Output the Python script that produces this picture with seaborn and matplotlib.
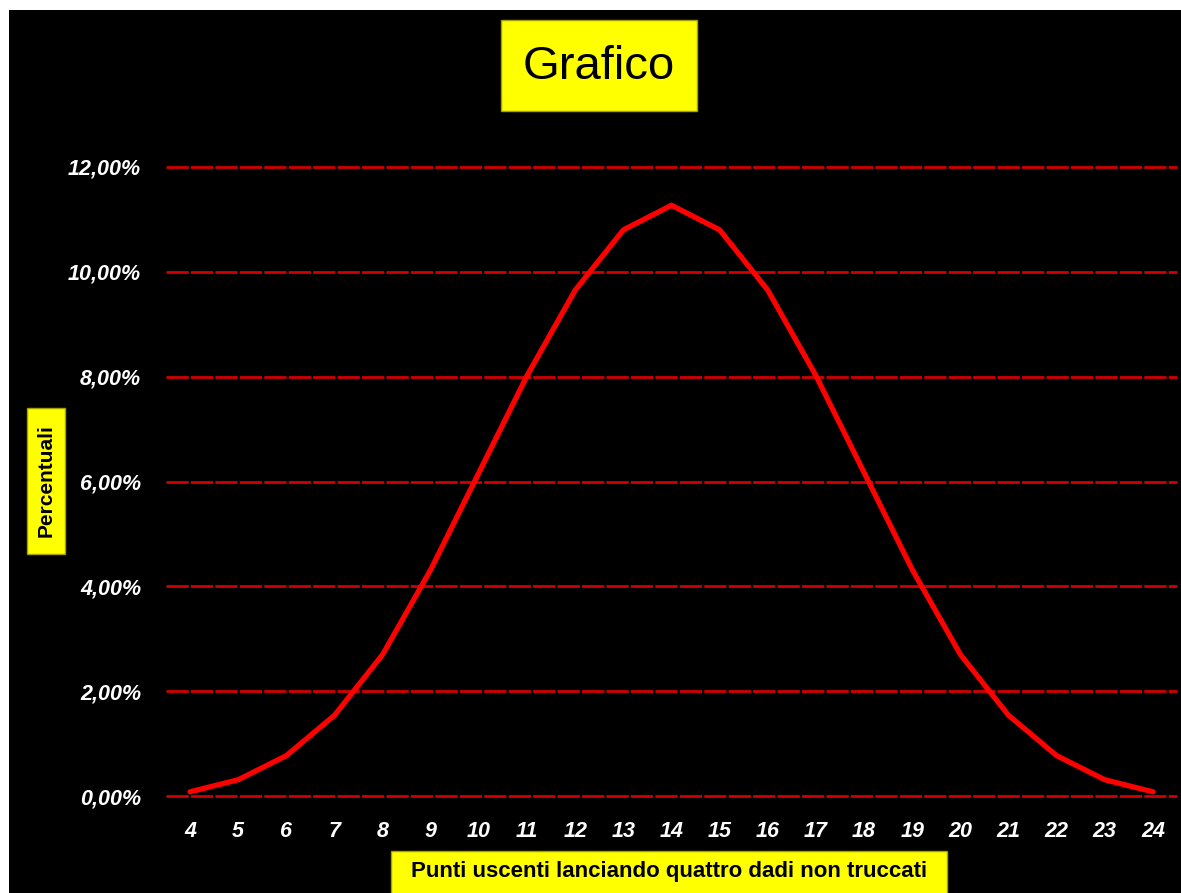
import numpy as np
import pandas as pd
import matplotlib
matplotlib.use("Agg")
import matplotlib.pyplot as plt
import seaborn as sns
from matplotlib.patches import Rectangle

# sums of four fair dice and their percentages
punti = [4, 5, 6, 7, 8, 9, 10, 11, 12, 13, 14, 15, 16, 17, 18, 19, 20, 21, 22, 23, 24]
percentuali = [0.08, 0.31, 0.77, 1.54, 2.70, 4.32, 6.17, 8.02, 9.65, 10.80, 11.27,
               10.80, 9.65, 8.02, 6.17, 4.32, 2.70, 1.54, 0.77, 0.31, 0.08]
y_ticks = [0, 2, 4, 6, 8, 10, 12]

titolo = "Grafico"
x_label = "Punti uscenti lanciando quattro dadi non truccati"
y_label = "Percentuali"

df = pd.DataFrame({"punti": punti, "perc": percentuali})

W, H = 1181, 893

sns.set_style("dark")
plt.rcParams["font.family"] = ["Liberation Sans", "DejaVu Sans"]

fig = plt.figure(figsize=(W / 100, H / 100), dpi=100, facecolor="white")


def px_box(x0, y0, x1, y1, **kw):
    """Rectangle in figure pixels, measured from the top-left corner."""
    r = Rectangle((x0 / W, 1 - y1 / H), (x1 - x0) / W, (y1 - y0) / H,
                  transform=fig.transFigure, **kw)
    fig.patches.append(r)
    return r


# black chart area, leaving a thin white strip at top and left
px_box(9, 10, W, H, facecolor="black", edgecolor="none", zorder=-10)

ax = fig.add_axes([166 / W, 97 / H, 1011 / W, 629 / H])
ax.set_facecolor("black")

for v in y_ticks:
    ax.axhline(v, color="#d00000", lw=2, dashes=(8, 0.8), zorder=1, clip_on=False)

sns.lineplot(data=df, x="punti", y="perc", ax=ax, color="#ff0000", lw=3.8, zorder=3)

ax.set_xlim(3.5, 24.5)
ax.set_ylim(0, 12)
ax.set_xticks(punti)
ax.set_xticklabels([str(p) for p in punti])
ax.set_yticks(y_ticks)
ax.set_yticklabels([f"{v},00%" for v in y_ticks])
ax.tick_params(length=0, colors="white")
ax.tick_params(axis="y", pad=18)
ax.tick_params(axis="x", pad=18)
for lab in ax.get_xticklabels() + ax.get_yticklabels():
    lab.set_fontweight("bold")
    lab.set_fontstyle("italic")
    lab.set_fontsize(15.5)
    lab.set_color("white")
ax.grid(False)
ax.set_xlabel("")
ax.set_ylabel("")
for s in ax.spines.values():
    s.set_visible(False)

yellow = dict(facecolor="#ffff00", edgecolor="#a0a000", lw=1, zorder=2)

# title box
px_box(501, 20, 697, 111, **yellow)
fig.text(599 / W, 1 - 67 / H, titolo, ha="center", va="center", fontsize=34,
         color="black", zorder=3)

# y label box
px_box(27, 408, 65, 554, **yellow)
fig.text(46 / W, 1 - 481 / H, y_label, ha="center", va="center", rotation=90,
         fontsize=15, fontweight="bold", color="black", zorder=3)

# x label box
px_box(391, 851, 947, 895, **yellow)
fig.text(669 / W, 1 - 872 / H, x_label, ha="center", va="center",
         fontsize=16, fontweight="bold", color="black", zorder=3)

fig.savefig("out.png", dpi=100, facecolor="white")
